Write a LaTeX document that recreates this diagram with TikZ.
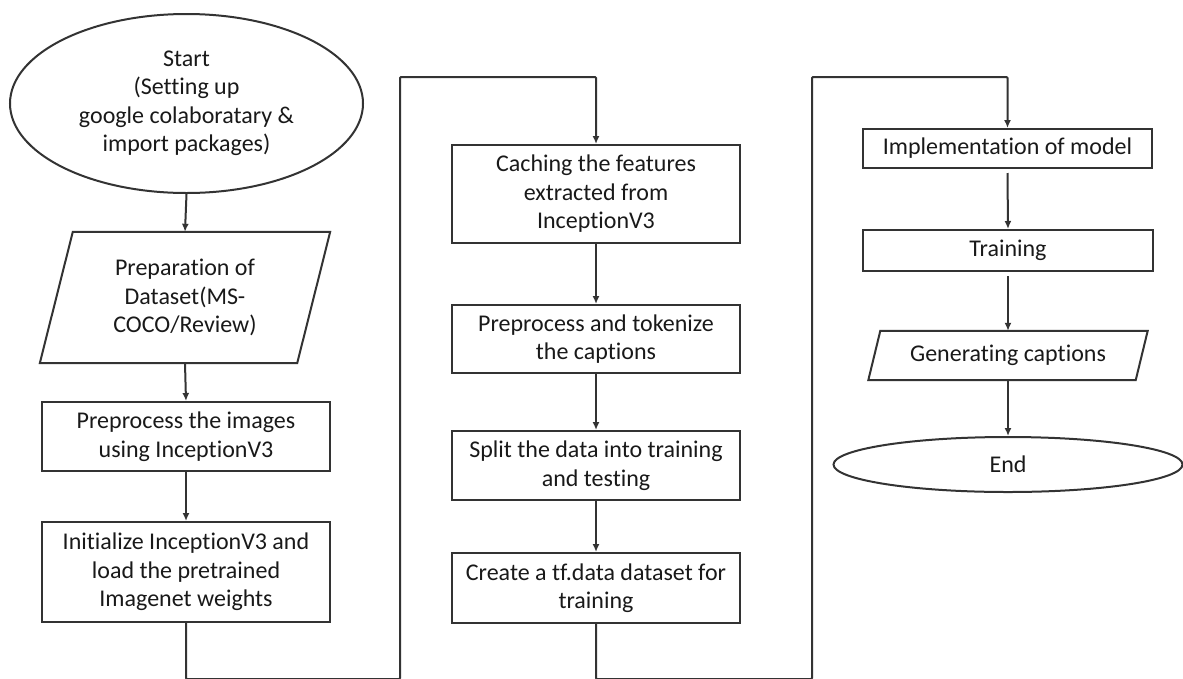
\documentclass[tikz,border=0pt]{standalone}
\usepackage{fontspec}
\setmainfont{Carlito}[Ligatures=NoCommon]
\usetikzlibrary{shapes.geometric,arrows.meta,calc}
% keep "t" and "i" as separate glyphs
\newcommand\tIsep{t\kern0pt i}

\begin{document}
\begin{tikzpicture}[x=1pt,y=-1pt,
  line/.style={draw=black!80, line width=2pt},
  flow/.style={line, -{Latex[length=8pt,width=7pt]}},
  txt/.style={font=\fontsize{24}{28.5}\selectfont, text=black!90, align=center, inner sep=0pt},
  procbox/.style={txt, line, rectangle, minimum width=288pt},
  terminal/.style={txt, line, ellipse},
  iobox/.style={txt, rectangle, minimum width=257pt}
]
\useasboundingbox (0,0) rectangle (1183,678);
\clip (0,0) rectangle (1183,678);

% ---------- first column ----------
\node[terminal, minimum width=353pt, minimum height=179pt] (start) at (186.5,103.5)
  {Start\\(Set\tIsep{}ng up\\google colaboratary \&\\import packages)};

\node[iobox, minimum height=131pt] (prep) at (185,297.5)
  {Prepara\tIsep{}on of\\Dataset(MS-\\COCO/Review)};
\draw[line, line join=miter]
  ($(prep.north west)+(16.5,0)$) -- ($(prep.north east)+(16.5,0)$) --
  ($(prep.south east)+(-16.5,0)$) -- ($(prep.south west)+(-16.5,0)$) -- cycle;

\node[procbox, minimum height=69pt] (pimg) at (186,436.5)
  {Preprocess the images\\using Incep\tIsep{}onV3};
\node[procbox, minimum height=100pt] (init) at (186,572)
  {Ini\tIsep{}alize Incep\tIsep{}onV3 and\\load the pretrained\\Imagenet weights};

% ---------- second column ----------
\node[procbox, minimum height=98pt] (cache) at (596,194)
  {Caching the features\\extracted from\\Incep\tIsep{}onV3};
\node[procbox, minimum height=68pt] (tok) at (596,339)
  {Preprocess and tokenize\\the cap\tIsep{}ons};
\node[procbox, minimum height=69pt] (split) at (596,465.5)
  {Split the data into training\\and tes\tIsep{}ng};
\node[procbox, minimum height=70pt] (tfdata) at (596,588)
  {Create a tf.data dataset for\\training};

% ---------- third column ----------
\node[procbox, minimum height=39pt, minimum width=289pt] (impl) at (1007.5,148.5)
  {Implementa\tIsep{}on of model};
\node[procbox, minimum height=41pt, minimum width=290pt] (train) at (1008,250.5)
  {Training};
\node[iobox, minimum height=49pt, minimum width=267pt] (gen) at (1008,355.5)
  {Genera\tIsep{}ng cap\tIsep{}ons};
\draw[line, line join=miter]
  ($(gen.north west)+(6,0)$) -- ($(gen.north east)+(6,0)$) --
  ($(gen.south east)+(-6,0)$) -- ($(gen.south west)+(-6,0)$) -- cycle;
\node[terminal, minimum width=349pt, minimum height=55pt] (end) at (1008,464.5)
  {End};

% ---------- routing points of the column links ----------
\coordinate (lowA) at (0,679);
\coordinate (topA) at (400,77);
\coordinate (topB) at (812,77);

% ---------- connectors ----------
\draw[flow] (start.south) -- (prep.north);
\draw[flow] (prep.south) -- (pimg.north);
\draw[flow] (pimg.south) -- (init.north);
\draw[flow, rounded corners=1pt] (init.south) -- (init.south |- lowA) -- (topA |- lowA)
  -- (topA) -- (topA -| cache.north) -- (cache.north);

\draw[flow] (cache.south) -- (tok.north);
\draw[flow] (tok.south) -- (split.north);
\draw[flow] (split.south) -- (tfdata.north);
\draw[flow, rounded corners=1pt] (tfdata.south) -- (tfdata.south |- lowA) -- (topB |- lowA)
  -- (topB) -- (topB -| impl.north) -- (impl.north);

\draw[flow] ($(impl.south)+(0,4)$) -- (train.north);
\draw[flow] ($(train.south)+(0,4)$) -- (gen.north);
\draw[flow] (gen.south) -- (end.north);
\end{tikzpicture}
\end{document}
